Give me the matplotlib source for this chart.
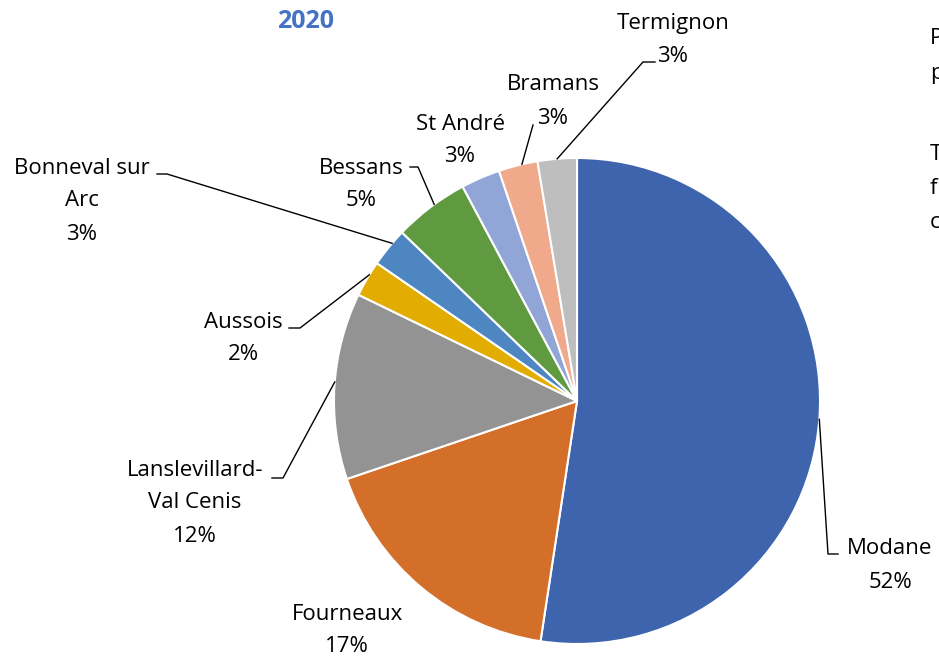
import matplotlib
matplotlib.use("Agg")
import matplotlib.pyplot as plt
import numpy as np

plt.rcParams['font.family'] = ['Open Sans', 'DejaVu Sans']

# data
communes = ['Modane', 'Fourneaux', 'Lanslevillard-\nVal Cenis', 'Aussois',
            'Bonneval sur\nArc', 'Bessans', 'St André', 'Bramans', 'Termignon']
shares = [52.4, 17.4, 12.4, 2.4, 2.6, 5.0, 2.6, 2.6, 2.6]
colors = ['#3D64AD', '#D46F2A', '#939393', '#E3AC00', '#4D86C1',
          '#5F9A41', '#91A5D6', '#F0A98A', '#BEBEBE']

W, H = 939, 657
fig = plt.figure(figsize=(W / 100, H / 100), dpi=100)
ax = fig.add_axes([0, 0, 1, 1])

cx, cy, r = 577, 401, 243

# pie drawn in a y-down frame: counterclock=True renders clockwise on screen
ax.pie(shares, colors=colors, startangle=-90, counterclock=True,
       center=(cx, cy), radius=r, frame=True,
       wedgeprops=dict(edgecolor='white', linewidth=1.5))
ax.set_xlim(0, W)
ax.set_ylim(H, 0)
ax.set_aspect('equal')
ax.axis('off')

# label: first-line centre, leader path (px, y down), position along wedge arc
label_pos = {
    'Modane': ((890, 549), [(838, 554), (828, 554)], 0.5),
    'Fourneaux': ((347, 614), None, None),
    'Lanslevillard-\nVal Cenis': ((195, 470), [(272, 478), (283, 478)], 0.52),
    'Aussois': ((243, 322), [(289, 328), (300, 328)], 0.62),
    'Bonneval sur\nArc': ((82, 168), [(157, 174), (167, 174)], 0.63),
    'Bessans': ((361, 168), [(410, 167), (418, 167)], 0.56),
    'St André': ((460, 124), None, None),
    'Bramans': ((553, 85), [(533, 125)], 0.6),
    'Termignon': ((673, 23), [(655, 62), (643, 62)], 0.5),
}

cum = np.cumsum([0] + shares) / 100.0
for i, name in enumerate(communes):
    (tx, ty), path, frac = label_pos[name]
    pct = f'{round(shares[i]):d}%'
    lines = name.split('\n') + [pct]
    for k, ln in enumerate(lines):
        ax.text(tx, ty + 33 * k, ln, ha='center', va='center',
                fontsize=16, color='#000000')
    if path is not None:
        a = (cum[i] + (cum[i + 1] - cum[i]) * frac) * 2 * np.pi
        ex = cx + r * np.sin(a)
        ey = cy - r * np.cos(a)
        xs, ys = zip(*(path + [(ex, ey)]))
        ax.plot(xs, ys, color='black', lw=1)

ax.text(306, 22, '2020', ha='center', va='center', fontsize=18,
        fontweight='bold', color='#4472C4')

# text box cut by the right edge in the original
for ch, y in zip(['P', 'p', 'T', 'f', 'c'], [39, 73, 155, 189, 223]):
    ax.text(930, y, ch, ha='left', va='center', fontsize=16, color='#000000')

fig.savefig('out.png', dpi=100)
